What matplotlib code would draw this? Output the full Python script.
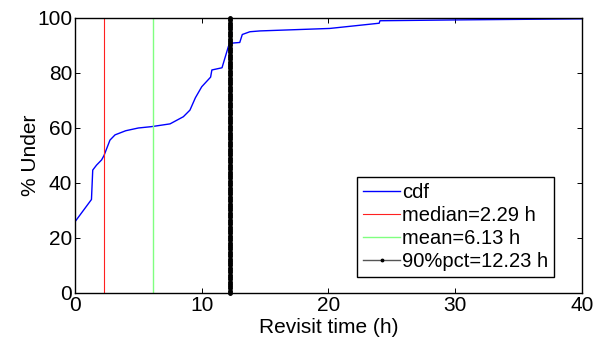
import numpy as np
import matplotlib
matplotlib.use("Agg")
import matplotlib.pyplot as plt

plt.rcParams['font.family'] = ['Liberation Sans', 'DejaVu Sans']

# CDF data
cdf_x = [0, 0, 1.3, 1.4, 1.7, 2.1, 2.29, 2.76, 3.16, 4.0, 5.0, 6.05, 7.5, 8.55, 9.07,
         9.5, 10.0, 10.5, 10.7, 10.8, 11.6, 12.1, 12.23, 13.0, 13.2, 13.8, 14.6,
         20.1, 24.0, 24.06, 30, 40]
cdf_y = [0, 25.9, 34, 44.7, 46.5, 48.4, 50, 55.6, 57.5, 59, 60, 60.5, 61.5, 64.1, 66.5,
         71, 75, 77.5, 78.5, 81.1, 81.9, 89.6, 90.8, 91.1, 94, 95, 95.3,
         96.2, 98.1, 99.0, 99.3, 99.7]
median_val = 2.29
mean_val = 6.13
p90_val = 12.23
x_ticks = [0, 10, 20, 30, 40]
y_ticks = [0, 20, 40, 60, 80, 100]

FS = 15

fig = plt.figure(figsize=(5.98, 3.37), dpi=100)
ax = fig.add_axes([0.1254, 0.1306, 0.8478, 0.816])

ax.plot(cdf_x, cdf_y, color='#0000ff', lw=1.0, label='cdf')
ax.plot([median_val, median_val], [0, 100], color='#ff2020', lw=0.8, label='median=%.2f h' % median_val)
ax.plot([mean_val, mean_val], [0, 100], color='#80ff80', lw=1.0, label='mean=%.2f h' % mean_val)
ys = np.linspace(0, 100, 121)
ax.plot([p90_val] * len(ys), ys, color='k', lw=1.0, marker='.', markersize=5,
        clip_on=False, label='90%%pct=%.2f h' % p90_val)

ax.set_xlim(0, 40)
ax.set_ylim(0, 100)
ax.set_xticks(x_ticks)
ax.set_yticks(y_ticks)
ax.tick_params(direction='in', top=True, right=True, length=3.5, width=0.7, labelsize=FS, pad=2)
for s in ax.spines.values():
    s.set_linewidth(1.0)
ax.set_xlabel('Revisit time (h)', fontsize=FS, labelpad=2)
ax.set_ylabel('% Under', fontsize=FS, labelpad=-2)

leg = ax.legend(loc='lower right', bbox_to_anchor=(0.9446, 0.058), fontsize=14.5, frameon=True,
                fancybox=False, edgecolor='k', framealpha=1, handlelength=1.8,
                handletextpad=0.1, borderpad=0.3, labelspacing=0.2, markerscale=0.7,
                borderaxespad=0)
leg.get_frame().set_linewidth(1.0)
leg.get_lines()[3].set_color('#555555')
leg.get_lines()[3].set_markerfacecolor('k')
leg.get_lines()[3].set_markeredgecolor('k')

fig.savefig('out.png', dpi=100)
